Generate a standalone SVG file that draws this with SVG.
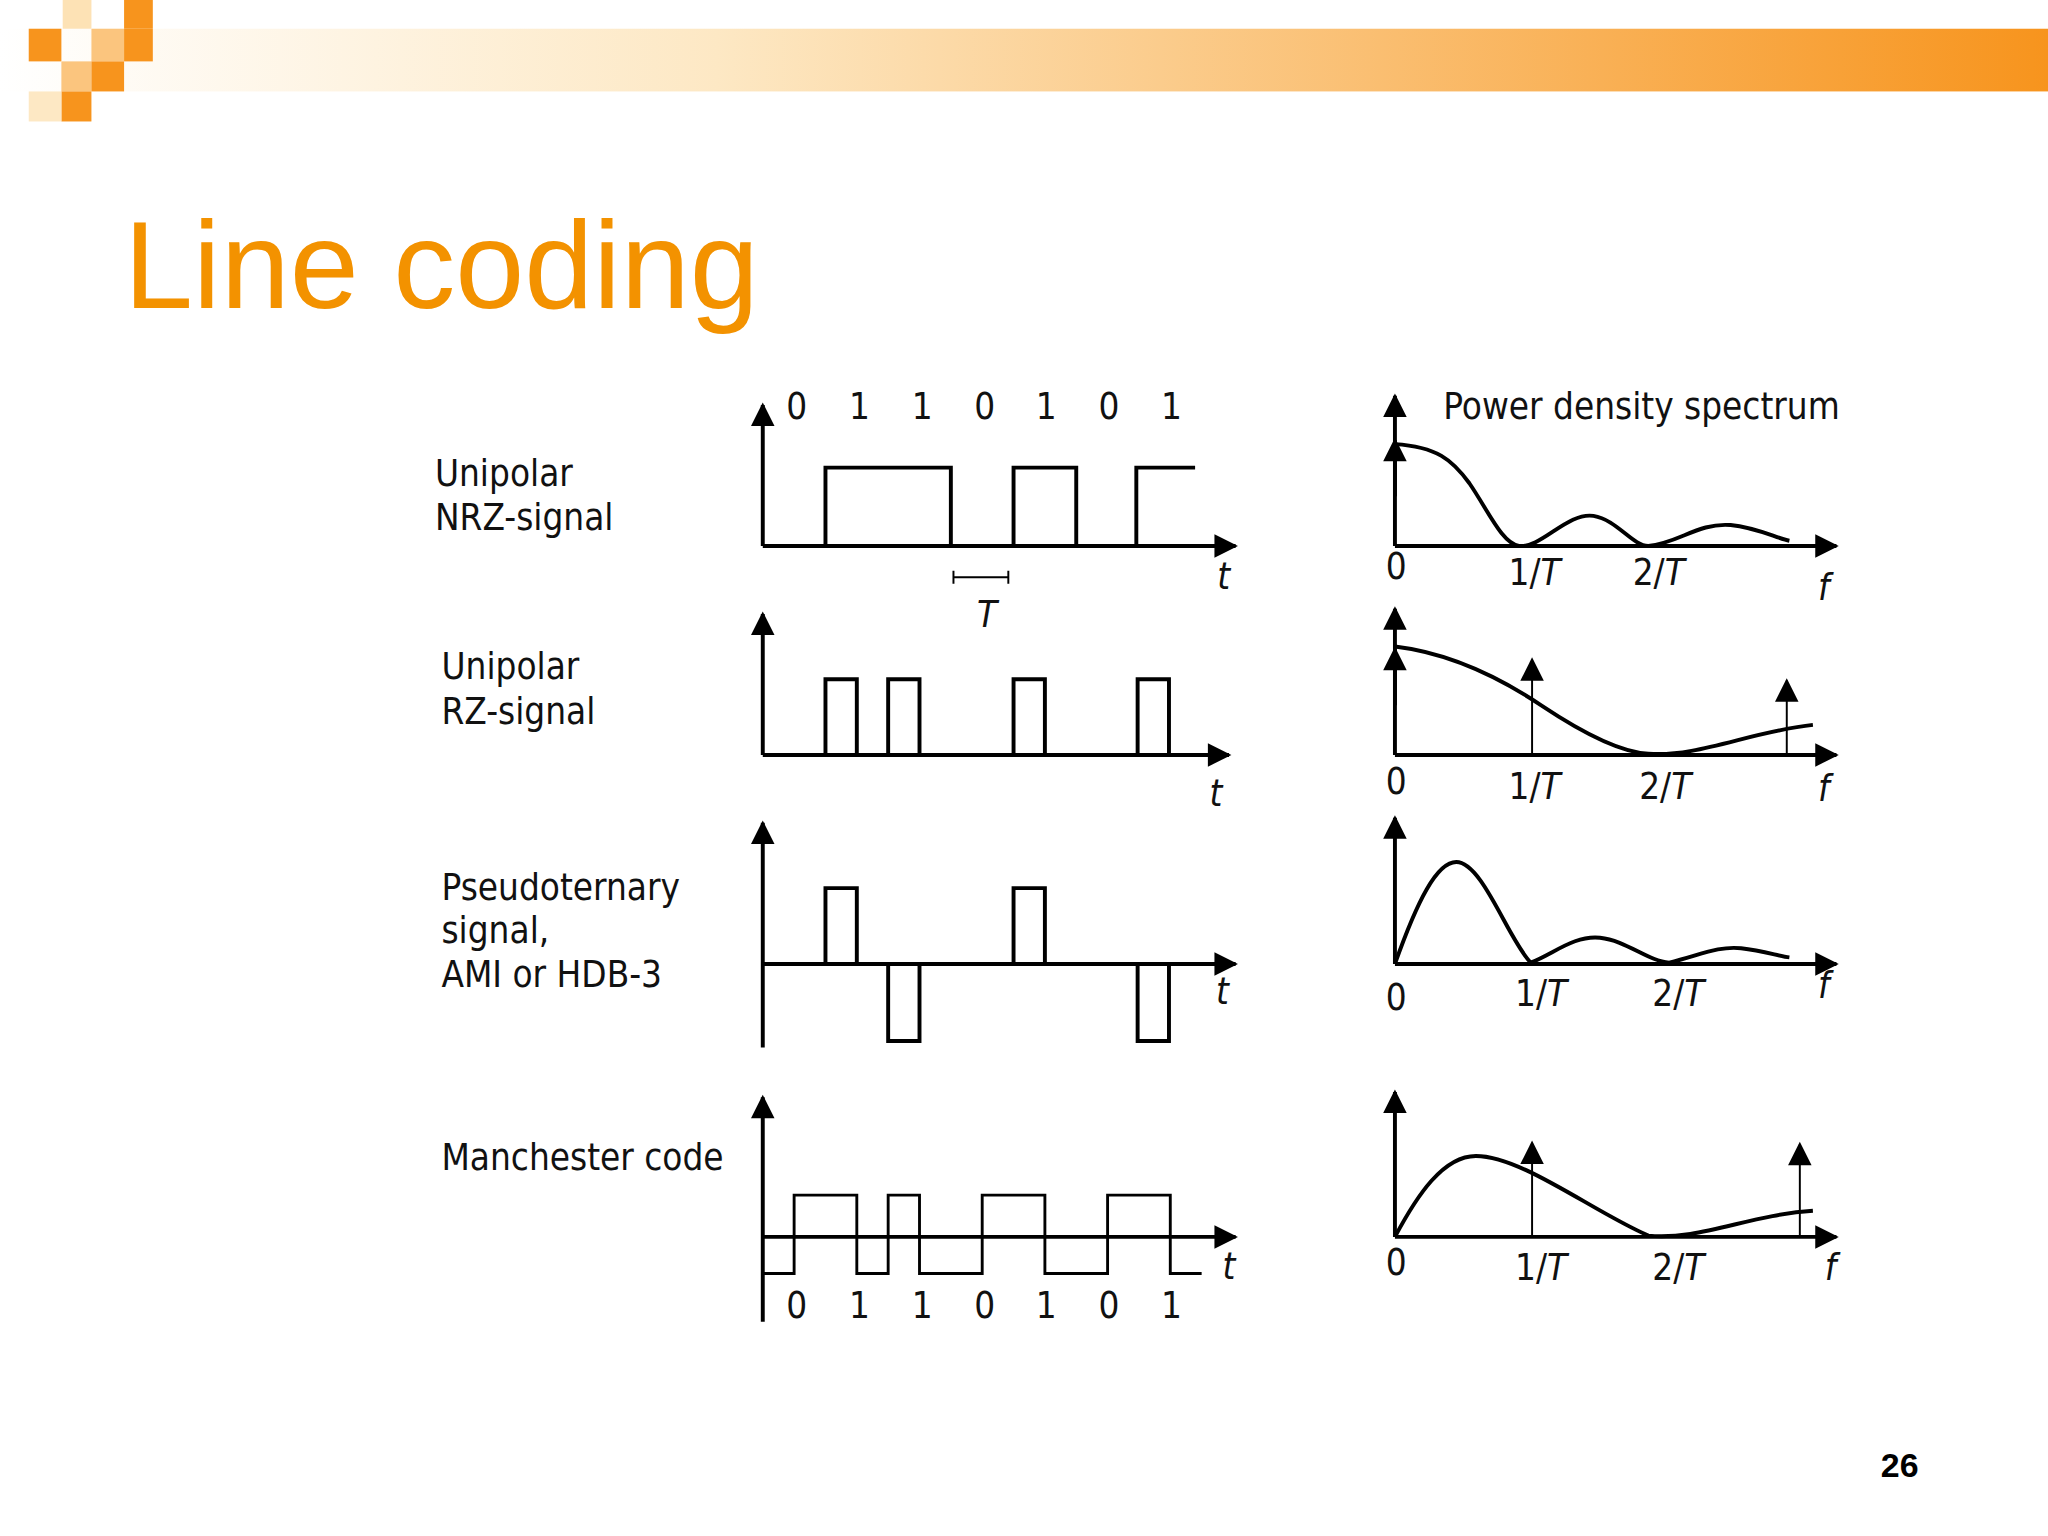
<svg xmlns="http://www.w3.org/2000/svg" width="2048" height="1536" viewBox="0 0 2048 1536">
<defs>
<linearGradient id="bar" x1="0" x2="1" y1="0" y2="0">
<stop offset="0" stop-color="#ffffff"/><stop offset="0.35" stop-color="#fde8c4"/><stop offset="1" stop-color="#f7941d"/>
</linearGradient>
<marker id="ab" viewBox="0 0 10 10" refX="9" refY="5" markerWidth="20" markerHeight="18" orient="auto" markerUnits="userSpaceOnUse">
<path d="M0,0 L10,5 L0,10 z" fill="#000"/>
</marker>
</defs>
<style>
.ax{stroke:#000;stroke-width:3;fill:none;marker-end:url(#ab)}
.sg{stroke:#000;stroke-width:3;fill:none}
.th{stroke:#000;stroke-width:1.5;fill:none;marker-end:url(#ab)}
.lb{font-family:"DejaVu Sans Condensed","Liberation Sans Narrow","Liberation Sans",sans-serif;font-size:28px;fill:#111}
.it{font-style:italic}
</style>
<rect width="2048" height="1536" fill="#fff"/>
<g transform="scale(1.30612)">
<g id="header">
<rect x="0" y="22" width="1568" height="48" fill="url(#bar)"/>
<rect x="48" y="0" width="22" height="22" fill="#fde2b5"/>
<rect x="95" y="0" width="22" height="22" fill="#f7941d"/>
<rect x="22" y="22" width="25" height="25" fill="#f7941d"/>
<rect x="70" y="22" width="25" height="25" fill="#fbc57e"/>
<rect x="95" y="22" width="22" height="25" fill="#f7941d"/>
<rect x="47" y="47" width="23" height="23" fill="#fbc57e"/>
<rect x="70" y="47" width="25" height="23" fill="#f7941d"/>
<rect x="47" y="70" width="23" height="23" fill="#f7941d"/>
<rect x="22" y="70" width="25" height="23" fill="#fde8c4"/>
</g>
<text x="95" y="236" font-family="Liberation Sans, sans-serif" font-size="95" fill="#f39200">Line coding</text>
<text x="1440" y="1131" font-family="Liberation Sans, sans-serif" font-size="26" font-weight="bold" fill="#000">26</text>

<g id="labels" class="lb">
<text x="333" y="372">Unipolar</text><text x="333" y="406">NRZ-signal</text>
<text x="338" y="520">Unipolar</text><text x="338" y="554">RZ-signal</text>
<text x="338" y="689">Pseudoternary</text><text x="338" y="722">signal,</text><text x="338" y="756">AMI or HDB-3</text>
<text x="338" y="896">Manchester code</text>
<text x="1105" y="321">Power density spectrum</text>
</g>

<g id="bits-top" class="lb" text-anchor="middle">
<text x="610" y="321">0</text><text x="658" y="321">1</text><text x="706" y="321">1</text><text x="754" y="321">0</text><text x="801" y="321">1</text><text x="849" y="321">0</text><text x="897" y="321">1</text>
</g>
<g id="bits-bottom" class="lb" text-anchor="middle">
<text x="610" y="1009">0</text><text x="658" y="1009">1</text><text x="706" y="1009">1</text><text x="754" y="1009">0</text><text x="801" y="1009">1</text><text x="849" y="1009">0</text><text x="897" y="1009">1</text>
</g>

<g id="nrz">
<line class="ax" x1="584" y1="418" x2="584" y2="310"/>
<line class="ax" x1="584" y1="418" x2="946" y2="418"/>
<path class="sg" d="M632,418 V358 H728 V418 M776,418 V358 H824 V418 M870,418 V358 H915"/>
<path d="M730,442 H772 M730,437 V447 M772,437 V447" stroke="#000" stroke-width="1.5"/>
<text class="lb it" x="748" y="480">T</text>
<text class="lb it" x="932" y="451">t</text>
</g>
<g id="rz">
<line class="ax" x1="584" y1="578" x2="584" y2="470"/>
<line class="ax" x1="584" y1="578" x2="941" y2="578"/>
<path class="sg" d="M632,578 V520 H656 V578 M680,578 V520 H704 V578 M776,578 V520 H800 V578 M871,578 V520 H895 V578"/>
<text class="lb it" x="926" y="617">t</text>
</g>
<g id="ami">
<line class="ax" x1="584" y1="802" x2="584" y2="630"/>
<line class="ax" x1="584" y1="738" x2="946" y2="738"/>
<path class="sg" d="M632,738 V680 H656 V738 M680,738 V797 H704 V738 M776,738 V680 H800 V738 M871,738 V797 H895 V738"/>
<text class="lb it" x="931" y="769">t</text>
</g>
<g id="manchester">
<line class="ax" x1="584" y1="1012" x2="584" y2="840"/>
<line class="ax" x1="584" y1="947" x2="946" y2="947"/>
<path d="M584,975 H608 V915 H656 V975 H680 V915 H704 V975 H752 V915 H800 V975 H848 V915 H896 V975 H920" stroke="#000" stroke-width="2.2" fill="none"/>
<text class="lb it" x="936" y="979">t</text>
</g>

<g id="spec1">
<line class="ax" x1="1068" y1="418" x2="1068" y2="303"/>
<line class="ax" x1="1068" y1="380" x2="1068" y2="337"/>
<line class="ax" x1="1068" y1="418" x2="1406" y2="418"/>
<path class="sg" d="M1068,340 C1100,342 1112,352 1125,370 C1140,392 1150,416 1163,418 C1180,420 1200,392 1220,395 C1238,398 1250,418 1262,418 C1285,416 1300,400 1325,402 C1345,404 1360,412 1370,414" stroke-width="2.5"/>
<text class="lb" x="1061" y="443">0</text>
<text class="lb" x="1155" y="448">1/<tspan class="it">T</tspan></text>
<text class="lb" x="1250" y="448">2/<tspan class="it">T</tspan></text>
<text class="lb it" x="1392" y="459">f</text>
</g>
<g id="spec2">
<line class="ax" x1="1068" y1="578" x2="1068" y2="466"/>
<line class="ax" x1="1068" y1="540" x2="1068" y2="497"/>
<line class="ax" x1="1068" y1="578" x2="1406" y2="578"/>
<line class="th" x1="1173" y1="578" x2="1173" y2="505"/>
<line class="th" x1="1368" y1="578" x2="1368" y2="521"/>
<path class="sg" d="M1068,495 C1110,500 1150,520 1180,540 C1210,560 1240,576 1262,577 C1300,580 1340,560 1388,555" stroke-width="2.5"/>
<text class="lb" x="1061" y="608">0</text>
<text class="lb" x="1155" y="612">1/<tspan class="it">T</tspan></text>
<text class="lb" x="1255" y="612">2/<tspan class="it">T</tspan></text>
<text class="lb it" x="1392" y="613">f</text>
</g>
<g id="spec3">
<line class="ax" x1="1068" y1="738" x2="1068" y2="626"/>
<line class="ax" x1="1068" y1="738" x2="1406" y2="738"/>
<path class="sg" d="M1068,738 C1085,690 1100,660 1115,660 C1135,660 1155,720 1172,737 C1190,730 1205,716 1225,718 C1245,720 1262,736 1278,737 C1300,732 1315,724 1333,726 C1350,728 1362,732 1370,733" stroke-width="2.5"/>
<text class="lb" x="1061" y="773">0</text>
<text class="lb" x="1160" y="770">1/<tspan class="it">T</tspan></text>
<text class="lb" x="1265" y="770">2/<tspan class="it">T</tspan></text>
<text class="lb it" x="1392" y="764">f</text>
</g>
<g id="spec4">
<line class="ax" x1="1068" y1="947" x2="1068" y2="836"/>
<line class="ax" x1="1068" y1="947" x2="1406" y2="947"/>
<line class="th" x1="1173" y1="947" x2="1173" y2="875"/>
<line class="th" x1="1378" y1="947" x2="1378" y2="876"/>
<path class="sg" d="M1068,947 C1085,915 1105,885 1130,885 C1165,885 1220,928 1262,946 C1300,950 1340,930 1388,927" stroke-width="2.5"/>
<text class="lb" x="1061" y="976">0</text>
<text class="lb" x="1160" y="980">1/<tspan class="it">T</tspan></text>
<text class="lb" x="1265" y="980">2/<tspan class="it">T</tspan></text>
<text class="lb it" x="1397" y="980">f</text>
</g>
</g>
</svg>
